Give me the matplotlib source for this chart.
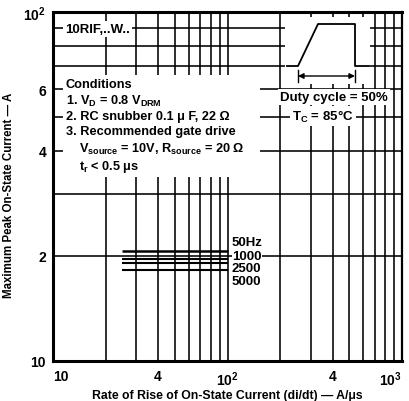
import matplotlib
matplotlib.use("Agg")
import matplotlib.pyplot as plt
from matplotlib import font_manager
from matplotlib.patches import Rectangle

#-- Data (A, A/us)
freq_labels = ["50Hz", "1000", "2500", "5000"]
didt_start = [25, 25, 25, 25]          # left end of each curve
didt_end = [100, 100, 100, 100]        # right end of each curve
peak_current = [20.7, 19.6, 19.1, 18.2]
curve_widths = [1.8, 1.5, 1.5, 1.5]

x_major = [10, 40, 100, 400, 1000]
x_major_labels = ["10", "4", "10$^2$", "4", "10$^3$"]
x_minor = [20, 30, 50, 60, 70, 80, 90, 200, 300, 500, 600, 700, 800, 900]
y_major = [10, 20, 40, 60, 100]
y_major_labels = ["10", "2", "4", "6", "10$^2$"]
y_minor = [30, 50, 70, 80, 90]

#-- Font: narrow bold if available
names = {f.name for f in font_manager.fontManager.ttflist}
fam = "Liberation Sans Narrow" if "Liberation Sans Narrow" in names else "Liberation Sans"
plt.rcParams["font.family"] = [fam, "DejaVu Sans"]
plt.rcParams["font.weight"] = "bold"
plt.rcParams["axes.labelweight"] = "bold"
plt.rcParams["mathtext.fontset"] = "custom"
plt.rcParams["mathtext.rm"] = fam + ":bold"
plt.rcParams["mathtext.it"] = fam + ":bold"
plt.rcParams["mathtext.bf"] = fam + ":bold"
plt.rcParams["mathtext.default"] = "rm"

W, H = 409, 402
L, R, T, B = 53, 402, 13, 362
fig = plt.figure(figsize=(W / 100, H / 100), dpi=100)
ax = fig.add_axes([L / W, (H - B) / H, (R - L) / W, (B - T) / H])


def px(x, y):
    #-- pixel position -> axes fraction
    return ((x - L) / (R - L), (B - y) / (B - T))


ax.set_xscale("log")
ax.set_yscale("log")
ax.set_xlim(10, 1000)
ax.set_ylim(10, 100)
ax.set_xticks(x_major, x_major_labels)
ax.set_xticks(x_minor, minor=True)
ax.set_xticklabels([], minor=True)
ax.set_yticks(y_major, y_major_labels)
ax.set_yticks(y_minor, minor=True)
ax.set_yticklabels([], minor=True)
ax.tick_params(which="both", length=0, labelsize=10)
ax.tick_params(axis="x", pad=6)
ax.tick_params(axis="y", pad=5)
ax.get_xticklabels()[0].set_ha("left")
ax.get_xticklabels()[-1].set_ha("right")
ax.grid(which="both", color="black", linewidth=1.15, zorder=1)
ax.set_axisbelow(True)
for side in ["left", "bottom", "top"]:
    ax.spines[side].set_linewidth(2.2)
ax.spines["right"].set_linewidth(1.6)

#-- frequency curves
for x0, x1, y, lw in zip(didt_start, didt_end, peak_current, curve_widths):
    ax.plot([x0, x1], [y, y], color="black", linewidth=lw, zorder=3,
            solid_capstyle="butt")

label_y = [243, 257, 269, 282]
for lab, yy in zip(freq_labels, label_y):
    ax.text(*px(232, yy), lab, transform=ax.transAxes, fontsize=9.5,
            va="center", ha="left", zorder=5,
            bbox=dict(facecolor="white", edgecolor="none", pad=0.3))

#-- white areas covering the grid
def blank(x0, y0, x1, y1):
    a = px(x0, y1)
    b = px(x1, y0)
    ax.add_patch(Rectangle(a, b[0] - a[0], b[1] - a[1], transform=ax.transAxes,
                           facecolor="white", edgecolor="none", zorder=2))

blank(63, 76, 260, 178)   # conditions
blank(285, 18, 370, 85)   # waveform

#-- conditions text
cond = [
    (66, 85, "Conditions"),
    (66, 101, "1. V$_\\mathregular{D}$ = 0.8 V$_\\mathregular{DRM}$"),
    (66, 117, "2. RC snubber 0.1 \u03bc F, 22 \u03a9"),
    (66, 132, "3. Recommended gate drive"),
    (79, 149, "V$_\\mathregular{source}$ = 10V, R$_\\mathregular{source}$ = 20 \u03a9"),
    (79, 167, "t$_\\mathregular{r}$ < 0.5 \u03bcs"),
]
for xx, yy, s in cond:
    ax.text(*px(xx, yy), s, transform=ax.transAxes, fontsize=9.2,
            va="center", ha="left", zorder=5)

ax.text(*px(65, 30), "10RIF,..W..", transform=ax.transAxes, fontsize=9.5,
        va="center", ha="left", zorder=5,
        bbox=dict(facecolor="white", edgecolor="none", pad=1.5))

#-- waveform sketch
wave_x = [287, 298, 318, 355, 355, 369]
wave_y = [67, 67, 25, 25, 67, 67]
pts = [px(a, b) for a, b in zip(wave_x, wave_y)]
ax.plot([p[0] for p in pts], [p[1] for p in pts], color="black", linewidth=1.3,
        transform=ax.transAxes, zorder=4)
ax.annotate("", xy=px(355, 77), xytext=px(298, 77), xycoords="axes fraction",
            arrowprops=dict(arrowstyle="<|-|>", color="black", lw=1.0,
                            mutation_scale=8, shrinkA=0, shrinkB=0), zorder=4)
for xx in [298, 355]:
    a, b = px(xx, 71), px(xx, 83)
    ax.plot([a[0], b[0]], [a[1], b[1]], color="black", linewidth=1.0,
            transform=ax.transAxes, zorder=4)

ax.text(*px(334, 98), "Duty cycle = 50%", transform=ax.transAxes, fontsize=9.5,
        va="center", ha="center", zorder=5,
        bbox=dict(facecolor="white", edgecolor="none", pad=1.5))
ax.text(*px(323, 117), "T$_\\mathregular{C}$ = 85\u00b0C", transform=ax.transAxes,
        fontsize=9.5, va="center", ha="center", zorder=5,
        bbox=dict(facecolor="white", edgecolor="none", pad=1.5))

ax.set_xlabel("Rate of Rise of On-State Current (di/dt) \u2014 A/\u03bcs", fontsize=8.8)
ax.set_ylabel("Maximum Peak On-State Current \u2014 A", fontsize=8.3)
ax.xaxis.set_label_coords(0.5, (B - 390) / (B - T))
ax.yaxis.set_label_coords((15 - L) / (R - L), (B - 195) / (B - T))

fig.savefig("out.png", dpi=100)
